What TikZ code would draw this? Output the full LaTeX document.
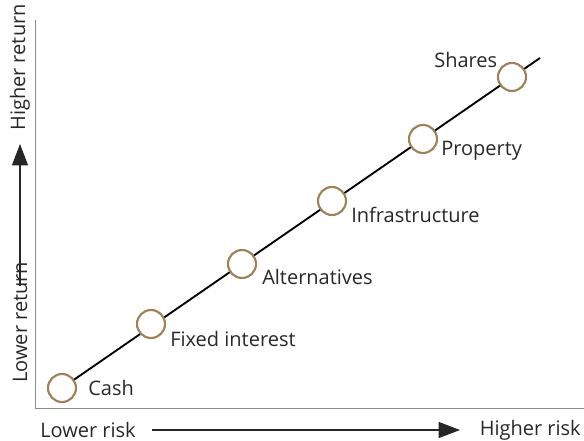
\documentclass[tikz,border=0pt]{standalone}
\usepackage{fontspec}
\setmainfont{Open Sans}
\usetikzlibrary{arrows.meta}
\definecolor{ring}{RGB}{160,130,90}
\definecolor{ink}{RGB}{40,40,40}
\begin{document}
\begin{tikzpicture}
[x=0.75pt, y=-0.75pt,
 asset/.style = {circle, draw=ring, line width=1.6pt, fill=white,
   minimum size=21pt, inner sep=0pt},
 lbl/.style = {text=ink, font=\fontsize{15}{17}\selectfont, inner sep=0pt},
 axis/.style = {draw=black!45, line width=0.7pt},
 pointer/.style = {draw=black!85, line width=0.8pt, -{Triangle[length=16pt,width=12pt]}}]
 \useasboundingbox (0,0) rectangle (584,441);

  % axes
  \coordinate (top) at (35,20);
  \coordinate (origin) at (35,408);
  \coordinate (right) at (584,408);
  \draw[axis] (top) -- (origin) -- (right);

  % axis captions
  \node[lbl, anchor=west] (lowrisk) at (40,430) {Lower risk};
  \node[lbl, anchor=east] (highrisk) at (581,430) {Higher risk};
  \draw[pointer] (152,430) coordinate (r0) -- (460,430) coordinate (r1);
  \node[lbl, rotate=90, anchor=west] (lowret) at (20,383) {Lower return};
  \node[lbl, rotate=90, anchor=east] (highret) at (20,4) {Higher return};
  \draw[pointer] (20,286) coordinate (u0) -- (20,144) coordinate (u1);

  % risk line
  \coordinate (cash) at (62,388);
  \coordinate (end) at (540,58);
  \draw[line width=1.4pt] (cash) -- (end);

  \node[asset] (c1) at (62,388) {};
  \node[asset] (c2) at (151,324) {};
  \node[asset] (c3) at (242,264) {};
  \node[asset] (c4) at (332,201) {};
  \node[asset] (c5) at (423,139) {};
  \node[asset] (c6) at (512,77) {};

  \node[lbl, anchor=west] at (88,388) {Cash};
  \node[lbl, anchor=west] at (170,339) {Fixed interest};
  \node[lbl, anchor=west] at (262,277) {Alternatives};
  \node[lbl, anchor=west] at (351,215) {Infrastructure};
  \node[lbl, anchor=west] at (441,151) {Property};
  \node[lbl, anchor=west] at (434,60) {Shares};
\end{tikzpicture}
\end{document}
